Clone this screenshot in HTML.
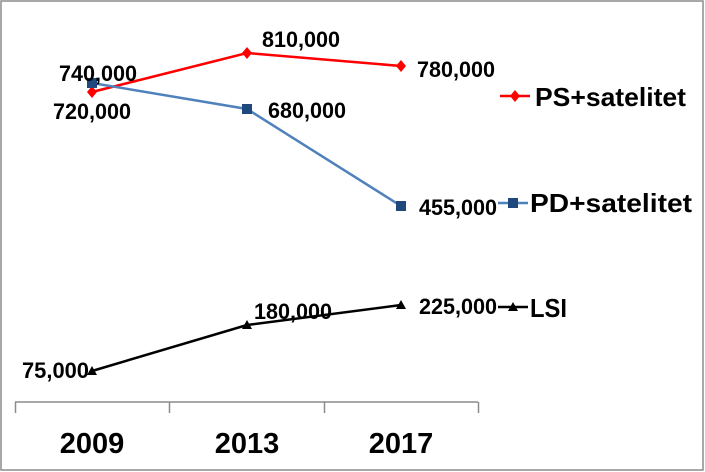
<!DOCTYPE html>
<html><head><meta charset="utf-8"><style>body{margin:0;background:#fff}svg{display:block}</style></head>
<body>
<svg width="705" height="472" viewBox="0 0 705 472" xmlns="http://www.w3.org/2000/svg" font-family="Liberation Sans, sans-serif" font-weight="bold">
<rect x="1" y="1" width="702" height="469" fill="#fff" stroke="#8c8c8c" stroke-width="1.5"/>
<g stroke="#8c8c8c" stroke-width="1.5">
<line x1="15" y1="402" x2="478" y2="402"/>
<line x1="15.5" y1="402" x2="15.5" y2="413"/>
<line x1="169.5" y1="402" x2="169.5" y2="413"/>
<line x1="324.5" y1="402" x2="324.5" y2="413"/>
<line x1="478.5" y1="402" x2="478.5" y2="413"/>
</g>
<g font-size="29" text-anchor="middle" fill="#000">
<text x="92" y="453">2009</text><text x="247" y="453">2013</text><text x="401" y="453">2017</text>
</g>
<polyline points="92,92 247,53 401,66" fill="none" stroke="#ff0000" stroke-width="2.5"/>
<polyline points="92,83 247,109 401,206" fill="none" stroke="#4f81bd" stroke-width="2.5"/>
<polyline points="92,371 247,325 401,305" fill="none" stroke="#000" stroke-width="2.5"/>
<g fill="#ff0000">
<path d="M92,86 l5,6 -5,6 -5,-6z"/><path d="M247,47 l5,6 -5,6 -5,-6z"/><path d="M401,60 l5,6 -5,6 -5,-6z"/>
<line x1="500" y1="96" x2="530" y2="96" stroke="#ff0000" stroke-width="2.5"/><path d="M515,90 l5,6 -5,6 -5,-6z"/>
</g>
<g fill="#1f497d">
<rect x="87" y="78" width="10" height="10"/><rect x="242" y="104" width="10" height="10"/><rect x="396" y="201" width="10" height="10"/>
<line x1="498" y1="203" x2="528" y2="203" stroke="#4f81bd" stroke-width="2.5"/><rect x="508" y="198" width="10" height="10"/>
</g>
<g fill="#000">
<path d="M92,366 l5,9 h-10z"/><path d="M247,320 l5,9 h-10z"/><path d="M401,300 l5,9 h-10z"/>
<line x1="498" y1="307" x2="528" y2="307" stroke="#000" stroke-width="2.5"/><path d="M513,302 l5,9 h-10z"/>
</g>
<g font-size="22" fill="#000">
<text x="59" y="81" textLength="78" lengthAdjust="spacingAndGlyphs">740,000</text>
<text x="53" y="119" textLength="78" lengthAdjust="spacingAndGlyphs">720,000</text>
<text x="262" y="47" textLength="78" lengthAdjust="spacingAndGlyphs">810,000</text>
<text x="417" y="77" textLength="78" lengthAdjust="spacingAndGlyphs">780,000</text>
<text x="268" y="118" textLength="78" lengthAdjust="spacingAndGlyphs">680,000</text>
<text x="419" y="215" textLength="78" lengthAdjust="spacingAndGlyphs">455,000</text>
<text x="254" y="319" textLength="78" lengthAdjust="spacingAndGlyphs">180,000</text>
<text x="419" y="314" textLength="78" lengthAdjust="spacingAndGlyphs">225,000</text>
<text x="22" y="378" textLength="67" lengthAdjust="spacingAndGlyphs">75,000</text>
</g>
<g font-size="26" fill="#000">
<text x="535" y="106" textLength="151" lengthAdjust="spacingAndGlyphs">PS+satelitet</text>
<text x="530" y="212" textLength="162" lengthAdjust="spacingAndGlyphs">PD+satelitet</text>
<text x="530" y="317" textLength="37" lengthAdjust="spacingAndGlyphs">LSI</text>
</g>
</svg>
</body></html>
